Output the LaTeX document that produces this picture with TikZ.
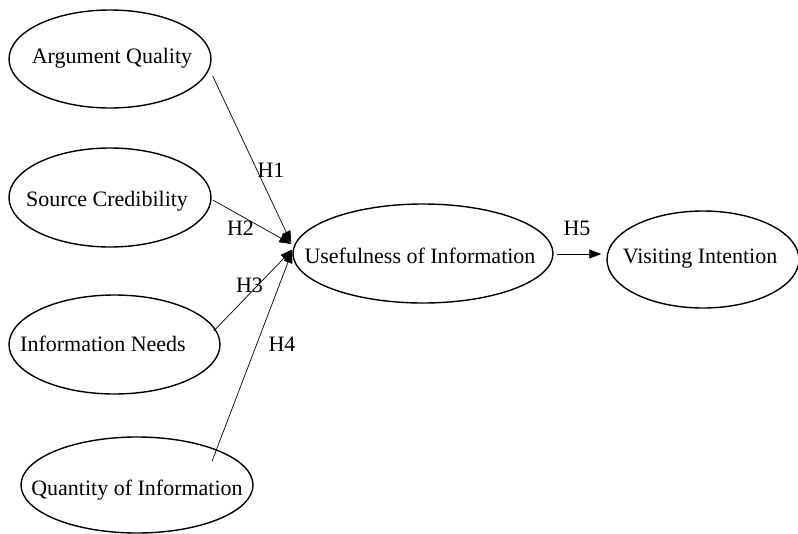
\documentclass[tikz,border=0pt]{standalone}
\usepackage{fontspec}
\setmainfont{Liberation Serif}
\usetikzlibrary{arrows.meta,calc,shapes.geometric}
\begin{document}
\begin{tikzpicture}[x=1pt,y=-1pt,
  oval/.style={draw=black,line width=1.4pt,ellipse,inner sep=0pt},
  txt/.style={anchor=base,inner sep=0pt,text=black,font=\fontsize{22}{26}\selectfont},
  conn/.style={draw=black,line width=0.7pt,-{Triangle[length=12pt,width=9pt]}}]
\useasboundingbox (0,0) rectangle (798,533);
\clip (0,0) rectangle (798,533);
% ellipses
\node[oval,minimum width=202pt,minimum height=98pt] (aq) at (110,59) {};
\node[oval,minimum width=202pt,minimum height=99pt] (sc) at (110,197.5) {};
\node[oval,minimum width=211pt,minimum height=99pt] (inn) at (114.5,344.5) {};
\node[oval,minimum width=232pt,minimum height=96pt] (qi) at (137,485) {};
\node[oval,minimum width=260pt,minimum height=99pt] (uoi) at (423,253.5) {};
\node[oval,minimum width=192pt,minimum height=97pt] (vi) at (703,259.5) {};
% texts
\node[txt] (aqt) at (112,63) {Argument Quality};
\node[txt] (sct) at (107,206) {Source Credibility};
\node[txt] (innt) at (103,351) {Information Needs};
\node[txt] (qit) at (137,495) {Quantity of Information};
\node[txt] (uoit) at (420,263) {Usefulness of Information};
\node[txt] (vit) at (700,263) {Visiting Intention};
% connectors
\draw[conn] ($(aq.east)+(1,17)$) -- ($(uoi.west)+(-1,-10.5)$);
\draw[conn] ($(sc.east)+(1,2.5)$) -- ($(uoi.west)+(-1,-9.5)$);
\draw[conn] ($(inn.east)+(-7,-13.5)$) -- ($(uoi.west)+(0,-4)$);
\draw[conn] ($(qi.north)+(75,25)$) -- ($(uoi.west)+(0,-2.5)$);
\draw[conn] ($(uoi.east)+(3,0.5)$) -- ($(vi.west)+(-5,-5.5)$);
% hypothesis labels
\node[txt] (h1) at (271,177) {H1};
\node[txt] (h2) at (240.5,235) {H2};
\node[txt] (h3) at (249.5,292) {H3};
\node[txt] (h4) at (282,351) {H4};
\node[txt] (h5) at (577,235) {H5};
\end{tikzpicture}
\end{document}
